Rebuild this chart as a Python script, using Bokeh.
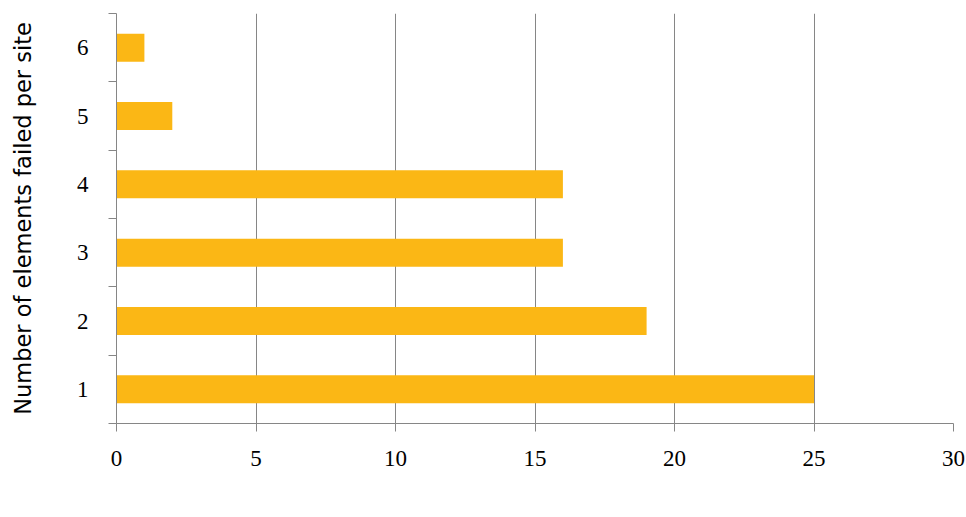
from bokeh.plotting import figure
from bokeh.models import Range1d, FixedTicker, Legend, LegendItem, ColumnDataSource
from bokeh.embed import file_html
from bokeh.resources import INLINE

categories = [1, 2, 3, 4, 5, 6]
failing_sites = [25, 19, 16, 16, 2, 1]
x_ticks = [0, 5, 10, 15, 20, 25, 30]
series_name = "Number of Failing sites"
y_title = "Number of elements failed per site"

BAR = "#FBB715"
GRID = "#868686"

p = figure(frame_width=837, frame_height=410, output_backend="svg", toolbar_location=None,
           x_range=Range1d(0, 30), y_range=Range1d(0.5, 6.5),
           min_border_left=116, min_border_right=13, min_border_top=13, min_border_bottom=0)
p.outline_line_color = None
p.background_fill_color = "white"
p.border_fill_color = "white"

src = ColumnDataSource(dict(y=categories, right=failing_sites))
r = p.hbar(y="y", right="right", left=0, height=0.41, source=src, fill_color=BAR, line_color=None)

# x axis
p.xaxis.ticker = FixedTicker(ticks=x_ticks)
p.xaxis.axis_line_color = GRID
p.xaxis.major_tick_line_color = GRID
p.xaxis.major_tick_out = 8
p.xaxis.major_tick_in = 0
p.xaxis.minor_tick_line_color = None
p.xaxis.major_label_text_font = "Liberation Serif"
p.xaxis.major_label_text_font_size = "23px"
p.xaxis.major_label_text_color = "black"
p.xaxis.major_label_standoff = 19

# y axis
p.yaxis.ticker = FixedTicker(ticks=categories, minor_ticks=[0.5 + i for i in range(7)])
p.yaxis.axis_line_color = GRID
p.yaxis.major_tick_line_color = None
p.yaxis.minor_tick_line_color = GRID
p.yaxis.minor_tick_out = 8
p.yaxis.minor_tick_in = 0
p.yaxis.major_label_text_font = "Liberation Serif"
p.yaxis.major_label_text_font_size = "23px"
p.yaxis.major_label_text_color = "black"
p.yaxis.major_label_standoff = 20
p.yaxis.axis_label = y_title
p.yaxis.axis_label_text_font = "DejaVu Sans"
p.yaxis.axis_label_text_font_style = "normal"
p.yaxis.axis_label_text_font_size = "22.5px"
p.yaxis.axis_label_text_color = "black"
p.yaxis.axis_label_standoff = 38

p.xgrid.grid_line_color = GRID
p.xgrid.ticker = FixedTicker(ticks=x_ticks)
p.ygrid.grid_line_color = None

legend = Legend(items=[LegendItem(label=series_name, renderers=[r])],
                location="top_center", orientation="horizontal",
                background_fill_alpha=0, border_line_color=None,
                label_text_font="DejaVu Sans", label_text_font_size="23px",
                label_text_color="black",
                glyph_width=16, glyph_height=16, label_standoff=5,
                label_width=455, padding=2, margin=0)
p.add_layout(legend, "below")

open("out.html", "w").write(file_html(p, INLINE))
